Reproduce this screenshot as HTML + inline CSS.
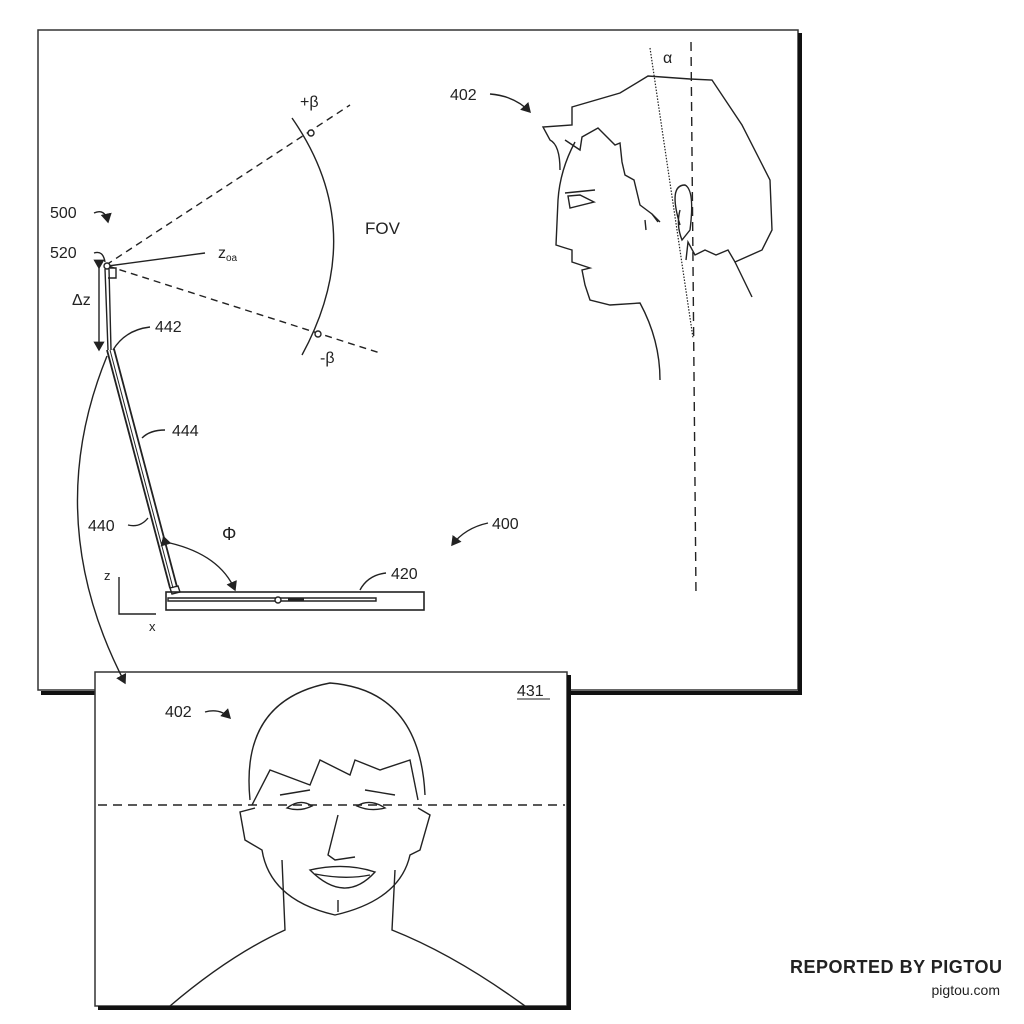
<!DOCTYPE html>
<html><head><meta charset="utf-8"><style>
html,body{margin:0;padding:0;background:#fff;}
svg{display:block}
text{font-family:"Liberation Sans",sans-serif;fill:#222}
</style></head><body>
<svg width="1024" height="1024" viewBox="0 0 1024 1024" xmlns="http://www.w3.org/2000/svg">
<defs>
<marker id="ah" markerWidth="8" markerHeight="8" refX="6" refY="4" orient="auto"><path d="M0,0 L7,4 L0,8 Z" fill="#222"/></marker>
</defs>
<g fill="none" stroke="#222" stroke-width="1.4">
<rect x="38" y="30" width="760" height="660" stroke="#333" stroke-width="1.5"/>
<path d="M800 33 V693 H41" stroke="#111" stroke-width="4"/>
<rect x="95" y="672" width="472" height="334" fill="#fff" stroke="#333" stroke-width="1.5"/>
<path d="M569 675 V1008 H98" stroke="#111" stroke-width="4"/>

<path d="M106 265 L350 105" stroke-dasharray="7,5"/>
<path d="M108 266 L380 353" stroke-dasharray="7,5"/>
<path d="M108 266 L205 253"/>
<path d="M292 118 Q370 230 302 355"/>
<circle cx="311" cy="133" r="3" fill="#fff"/>
<circle cx="318" cy="334" r="3" fill="#fff"/>
<path d="M108 268 h8 v10 h-8"/>
<circle cx="107" cy="266" r="3" fill="#fff"/>
<path d="M105 269 L108 350 M109 269 L111 350"/>
<path d="M99 268 V350" marker-start="url(#ah)" marker-end="url(#ah)"/>
<path d="M107 350 L170 588 M114 349 L177 587" stroke-width="1.8"/>
<path d="M110 350 L173 588" stroke-width="1"/>
<path d="M170 588 L178 586 L180 592 L172 594 Z"/>
<rect x="166" y="592" width="258" height="18" stroke-width="1.6"/>
<path d="M168 598 H376 V601 H168 Z"/>
<circle cx="278" cy="600" r="3" fill="#fff"/>
<path d="M288 600 H304" stroke-width="3"/>
<path d="M170 543 Q220 555 235 590" marker-start="url(#ah)" marker-end="url(#ah)"/>
<path d="M119 577 V614 H156"/>
<path d="M107 356 Q40 520 125 683" marker-end="url(#ah)"/>
<path d="M94 213 Q105 208 108 222" marker-end="url(#ah)"/>
<path d="M94 253 Q103 250 105 262"/>
<path d="M113 350 Q125 330 150 327"/>
<path d="M142 438 Q150 430 165 430"/>
<path d="M128 525 Q140 528 148 518"/>
<path d="M360 590 Q368 575 386 573"/>
<path d="M488 523 Q465 528 452 545" marker-end="url(#ah)"/>
<path d="M490 94 Q515 96 530 112" marker-end="url(#ah)"/>
<path d="M205 712 Q220 708 230 718" marker-end="url(#ah)"/>

<path d="M650 48 L693 338" stroke-dasharray="1.5,1.5" stroke-width="1.2"/>
<path d="M691 42 L696 595" stroke-dasharray="9,6"/>
<path d="M560 170 Q560 145 550 140 L543 127 L572 125 L572 107 L620 93 L648 76 L690 79 L712 80 L742 125 L770 180 L772 230 L762 250 L735 262 L728 250 L716 255 L705 250 L695 255 L688 242 L686 260"/>
<path d="M735 262 L752 297"/>
<path d="M565 140 L580 150 L582 137 L598 128 L615 145 L620 143 L622 162 L625 175 L634 180 L640 205 L652 214 L660 222"/>
<path d="M575 142 Q560 170 558 200 L556 245 Q565 248 572 250 L572 262 L590 268 L582 270 L585 285 L590 300 L610 305 L640 303 Q660 340 660 380"/>
<path d="M565 193 L595 190 M568 196 L570 208 L594 202 L580 195 Z"/>
<path d="M680 225 Q668 185 685 185 Q695 190 690 230 L682 240 Q676 225 680 210"/>
<path d="M645 220 L646 230 M652 214 L658 222"/>

<path d="M250 800 Q240 700 330 683 Q420 690 425 795"/>
<path d="M252 805 L270 770 L310 785 L320 760 L350 775 L355 760 L380 770 L410 760 L418 800"/>
<path d="M255 808 L240 812 L245 840 L262 850 Q270 900 335 915 Q400 900 410 855 L420 850 L430 815 L418 808"/>
<path d="M282 860 L285 930 Q230 955 170 1006"/>
<path d="M395 870 L392 930 Q455 955 525 1006"/>
<path d="M280 795 L310 790 M365 790 L395 795"/>
<path d="M287 808 Q300 798 312 806 Q300 812 287 808 Z"/>
<path d="M357 806 Q370 798 385 808 Q370 812 357 806 Z"/>
<path d="M338 815 L328 855 L335 860 L355 857"/>
<path d="M310 870 Q345 862 375 872 Q345 905 310 870 Z"/>
<path d="M315 874 Q345 880 370 875"/>
<path d="M338 900 V912"/>
<path d="M98 805 H565" stroke-dasharray="9,6"/>
<path d="M517 699 H550" stroke-width="1"/>
</g>
<g font-size="16">
<text x="50" y="218">500</text>
<text x="50" y="258">520</text>
<text x="218" y="258">z<tspan font-size="10" dy="3">oa</tspan></text>
<text x="72" y="305" font-size="16">Δz</text>
<text x="155" y="332">442</text>
<text x="172" y="436">444</text>
<text x="88" y="531">440</text>
<text x="391" y="579">420</text>
<text x="492" y="529">400</text>
<text x="222" y="540" font-size="18" font-family="Liberation Serif,serif">Φ</text>
<text x="300" y="107" font-family="Liberation Serif,serif">+β</text>
<text x="320" y="363" font-family="Liberation Serif,serif">-β</text>
<text x="365" y="234" font-size="17">FOV</text>
<text x="450" y="100">402</text>
<text x="663" y="63" font-family="Liberation Serif,serif">α</text>
<text x="104" y="580" font-size="13">z</text>
<text x="149" y="631" font-size="13">x</text>
<text x="165" y="717">402</text>
<text x="517" y="696">431</text>
</g>
<text x="790" y="973" font-size="18" font-weight="bold" fill="#333" textLength="212">REPORTED BY PIGTOU</text>
<text x="1000" y="995" font-size="14" text-anchor="end" fill="#666">pigtou.com</text>
</svg>
</body></html>
